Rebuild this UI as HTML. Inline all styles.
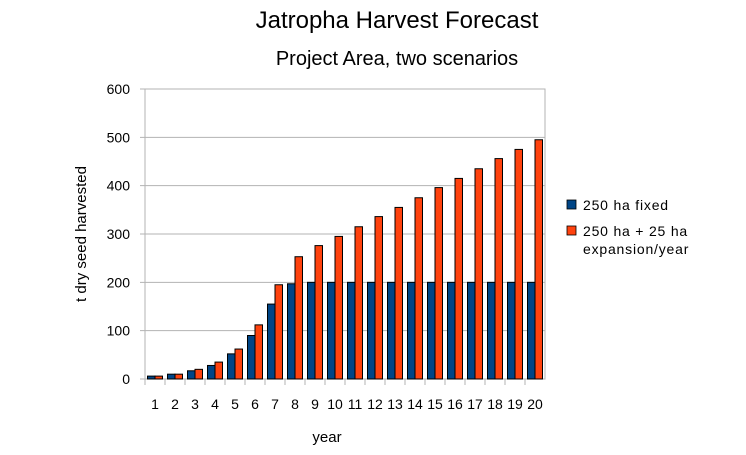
<!DOCTYPE html>
<html><head><meta charset="utf-8"><style>
body{margin:0;background:#fff;font-family:"Liberation Sans",sans-serif}
</style></head><body>
<svg width="746" height="450" font-family="Liberation Sans, sans-serif">
<text x="397" y="28" font-size="24" text-anchor="middle">Jatropha Harvest Forecast</text>
<text x="397" y="65" font-size="20" text-anchor="middle">Project Area, two scenarios</text>
<g id="grid"></g><g id="bars"></g><g id="axes"></g>
<text transform="translate(86,234) rotate(-90)" font-size="15" text-anchor="middle">t dry seed harvested</text>
<text x="327" y="442" font-size="15" text-anchor="middle">year</text>
<rect x="567" y="200" width="9" height="9" fill="#004586" stroke="#000" stroke-width="0.8"/>
<text x="583" y="210" font-size="14" letter-spacing="0.8">250 ha fixed</text>
<rect x="567" y="226" width="9" height="9" fill="#ff420e" stroke="#000" stroke-width="0.8"/>
<text x="583" y="236" font-size="14" letter-spacing="0.8">250 ha + 25 ha</text>
<text x="583" y="254" font-size="14" letter-spacing="0.8">expansion/year</text>
</svg>
<script>
const categories=[1,2,3,4,5,6,7,8,9,10,11,12,13,14,15,16,17,18,19,20];
const fixedValues=[6,10,17,28,52,90,155,197,200,200,200,200,200,200,200,200,200,200,200,200];
const expansionValues=[6,10,20,35,62,112,195,253,276,295,315,336,355,375,396,415,435,456,475,495];
const yTicks=[0,100,200,300,400,500,600];
const NS="http://www.w3.org/2000/svg";
const L=145,R=545,T=89,B=379,YMAX=600;
const y=v=>B-(v/YMAX)*(B-T);
const cw=(R-L)/categories.length;
const x=i=>L+i*cw;
function mk(tag,attrs,parent){const e=document.createElementNS(NS,tag);for(const k in attrs)e.setAttribute(k,attrs[k]);document.getElementById(parent).appendChild(e);return e;}
yTicks.forEach(t=>{
 const l=mk('line',{x1:L-5,x2:R,y1:y(t),y2:y(t),stroke:'#b3b3b3','stroke-width':1},'grid');
 
 
 const tx=mk('text',{x:L-15,y:y(t)+5,'font-size':14,'text-anchor':'end'},'axes');tx.textContent=t;
 
 
});
const ax=mk('rect',{x:L,y:T,width:R-L,height:B-T,fill:'none',stroke:'#b3b3b3'},'grid');


categories.forEach((c,i)=>{
 const tk=mk('line',{x1:x(i),x2:x(i),y1:B,y2:B+6,stroke:'#b3b3b3'},'axes');
 
 
 const tx=mk('text',{x:x(i)+cw/2,y:B+30,'font-size':14,'text-anchor':'middle'},'axes');tx.textContent=c;
 
 
 const bw=cw*0.375,off=cw*0.125;
 const b1=mk('rect',{x:x(i)+off,y:y(fixedValues[i]),width:bw,height:B-y(fixedValues[i]),fill:'#004586',stroke:'#000','stroke-width':1},'bars');
 
 
 const b2=mk('rect',{x:x(i)+off+bw,y:y(expansionValues[i]),width:bw,height:B-y(expansionValues[i]),fill:'#ff420e',stroke:'#000','stroke-width':1},'bars');
 
 
});
</script>
</body></html>
